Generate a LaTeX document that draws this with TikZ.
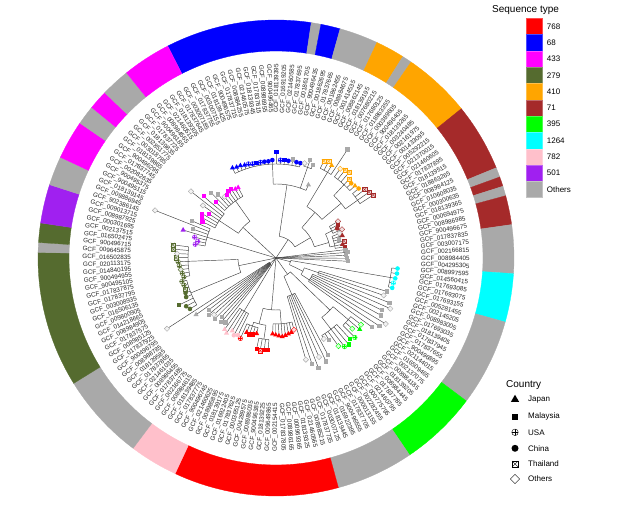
\documentclass[tikz,border=0pt]{standalone}
\usepackage{fontspec}
\setmainfont{Liberation Sans}
\usetikzlibrary{shapes.geometric}
\usetikzlibrary{positioning}
\definecolor{cR}{HTML}{FF0000}
\definecolor{cB}{HTML}{0000FF}
\definecolor{cM}{HTML}{FF00FF}
\definecolor{cO}{HTML}{556B2F}
\definecolor{cOr}{HTML}{FFA500}
\definecolor{cBr}{HTML}{A52A2A}
\definecolor{cG}{HTML}{00FF00}
\definecolor{cC}{HTML}{00FFFF}
\definecolor{cP}{HTML}{FFC0CB}
\definecolor{cV}{HTML}{A020F0}
\definecolor{cX}{HTML}{A9A9A9}
\tikzset{
  branch/.style={draw=black!75, line width=0.45pt},
  lbl/.style={inner sep=0pt, font=\fontsize{6.3}{7}\selectfont, text=black!85},
  jp/.style={regular polygon, regular polygon sides=3, fill=#1, inner sep=0pt, minimum size=6pt},
  my/.style={rectangle, fill=#1, inner sep=0pt, minimum size=4.2pt},
  cn/.style={circle, fill=#1, inner sep=0pt, minimum size=4.6pt},
  us/.style={circle, draw=#1, fill=#1!20, line width=0.4pt, inner sep=0pt, minimum size=4.6pt,
    path picture={\draw[draw=#1, line width=0.35pt] (path picture bounding box.north) -- (path picture bounding box.south)
      (path picture bounding box.west) -- (path picture bounding box.east);}},
  th/.style={rectangle, draw=#1, fill=#1!20, line width=0.4pt, inner sep=0pt, minimum size=4.2pt,
    path picture={\draw[draw=#1, line width=0.35pt] (path picture bounding box.south west) -- (path picture bounding box.north east)
      (path picture bounding box.north west) -- (path picture bounding box.south east);}},
  ot/.style={diamond, draw=#1, fill=#1!15, line width=0.4pt, inner sep=0pt, minimum size=5.5pt},
  mk/.code 2 args={\edef\mkopts{#1=#2}\expandafter\pgfkeysalso\expandafter{\mkopts}},
  stbox/.style={rectangle, fill=#1, draw=#1!70, line width=0.3pt, minimum width=16pt, minimum height=16.3pt, inner sep=0pt},
  keytext/.style={inner sep=1pt, font=\fontsize{8}{9}\selectfont},
  keytitle/.style={inner sep=1pt, font=\fontsize{10}{12}\selectfont}
}
% angle of leaf (or of a fractional leaf position)
\newcommand{\ix}[1]{117-(#1+0.5)*2.368}
% internal node: position, parent radius, node radius, arc from, arc to
\newcommand{\inode}[5]{%
  \draw[branch] ({\ix{#1}}:#2) -- ({\ix{#1}}:#3);
  \draw[branch] ({\ix{#4}}:#3) arc[start angle={\ix{#4}}, end angle={\ix{#5}}, radius=#3];}

\begin{document}
\begin{tikzpicture}[x=1pt, y=1pt]

  \useasboundingbox (0, 0) rectangle (620, 505);

  \begin{scope}[shift={(276, 247)}]

    % sequence type ring
    \foreach \s/\e/\col in {0/15/cB, 15/16/cX, 16/18/cB, 18/22/cX, 22/25/cOr, 25/26/cX, 26/33/cOr,
        33/40/cBr, 40/41/cX, 41/42/cBr, 42/43/cX, 43/46/cBr, 46/51/cX, 51/56/cC, 56/65/cX,
        65/73/cG, 73/81/cX, 81/98/cR, 98/103/cP, 103/112/cX, 112/126/cO, 126/127/cX,
        127/129/cO, 129/133/cV, 133/136/cX, 136/140/cM, 140/142/cX, 142/144/cM,
        144/147/cX, 147/152/cM} {
      \pgfmathsetmacro\aa{117-\s*2.368}
      \pgfmathsetmacro\bb{117-\e*2.368}
      \fill[fill=\col, draw=\col, line width=0.3pt] (\aa:207) arc[start angle=\aa, end angle=\bb, radius=207]
        -- (\bb:238) arc[start angle=\bb, end angle=\aa, radius=238] -- cycle;
    }

    % tip labels
    \foreach \i/\lab in {0/017837755, 1/003007155, 2/018139425, 3/900496575, 4/017837715,
        5/008984255, 6/021460575, 7/018139345, 8/017837615, 9/008986955, 10/900496465,
        11/018139395, 12/016919205, 13/021460585, 14/017837695, 15/001861705, 16/900496435,
        17/001862695, 18/017837665, 19/001862455, 20/008984675, 21/001414535, 22/008862145,
        23/018139195, 24/007680215, 25/017680125, 26/018863355, 27/000389605, 28/900496405,
        29/018139265, 30/003240485, 31/002161975, 32/001433095, 33/005292215, 34/021370015,
        35/021460605, 36/017837895, 37/018139515, 38/018863265, 39/008984125, 40/010608035,
        41/000300635, 42/018139365, 43/000694975, 44/008986985, 45/900496675, 46/017837835,
        47/003007175, 48/002166815, 49/008984405, 50/004295305, 51/008997595, 52/014560415,
        53/017693085, 54/017693075, 55/017693155, 56/005281455, 57/002145205, 58/008983005,
        59/017693035, 60/018139405, 61/017837945, 62/017837655, 63/900496895, 64/021144015,
        65/016509465, 66/002137075, 67/008984185, 68/018139205, 69/008984445, 70/017837785,
        71/021460795, 72/000775795, 73/002282455, 74/000013155, 75/017837705, 76/900496555,
        77/016922395, 78/018139445, 79/003007125, 80/017837735, 81/008985215, 82/021460565,
        83/018139325, 84/000969365, 85/008986165, 86/017837805, 87/002154415, 88/009649865,
        89/018139225, 90/900496385, 91/008986035, 92/004289575, 93/000365125, 94/017837625,
        95/016922405, 96/018139175, 97/008985895, 98/021460625, 99/900496745, 100/017837775,
        101/018139485, 102/008984615, 103/002166775, 104/017837485, 105/008986455,
        106/021461035, 107/017837865, 108/018139585, 109/008988785, 110/900496795,
        111/017837925, 112/008985125, 113/017837575, 114/008984905, 115/014218665,
        116/009800905, 117/016506135, 118/003008935, 119/017837795, 120/017837875,
        121/900495105, 122/900494955, 123/014840195, 124/020113175, 125/016502835,
        126/009645875, 127/900496715, 128/016502475, 129/002137515, 130/000301695,
        131/008987925, 132/009013715, 133/902386145, 134/009886945, 135/018139145,
        136/900495115, 137/900495375, 138/002082635, 139/017837745, 140/900496295,
        141/018139865, 142/003018785, 143/002851775, 144/018139835, 145/017837725,
        146/900496185, 147/008984565, 148/021460515, 149/018139305, 150/017837645,
        151/003007185} {
      \pgfmathsetmacro\a{\ix{\i}}
      \ifdim\a pt>90pt \def\anc{east}\pgfmathsetmacro\rot{\a+180}\else
        \ifdim\a pt<-90pt \def\anc{east}\pgfmathsetmacro\rot{\a+180}\else
          \def\anc{west}\let\rot\a\fi\fi
      \node[lbl, anchor=\anc, rotate=\rot] (l\i) at (\a:145) {GCF\_\lab};
    }

    % tree: inner nodes
    \inode{25}{0}{22}{14.5}{36}
    \inode{14.5}{22}{74}{10}{21}
    \inode{10}{74}{94}{0}{17}
    \inode{19}{74}{96}{18}{20}
    \inode{36}{22}{40}{28}{42}
    \inode{28}{40}{60}{24}{32}
    \inode{24}{60}{100}{22}{25}
    \inode{32}{60}{85}{29}{34}
    \inode{29}{85}{100}{26}{31}
    \inode{34}{85}{100}{32}{35}
    \inode{42}{40}{55}{38}{44}
    \inode{38}{55}{62}{36}{39}
    \inode{44}{55}{60}{40}{45}
    \inode{55}{0}{15}{53}{60}
    \inode{53}{15}{116}{51}{55}
    \inode{60}{15}{30}{57}{63}
    \inode{57}{30}{45}{56}{58}
    \inode{63}{30}{40}{59}{64}
    \inode{72}{0}{20}{67.5}{77}
    \inode{67.5}{20}{75}{66}{71}
    \inode{66}{75}{95}{65}{68}
    \inode{71}{75}{90}{69}{74}
    \inode{77}{20}{40}{75}{80}
    \inode{89}{0}{52}{85}{93}
    \inode{85}{52}{66}{81}{88}
    \inode{93}{52}{68}{90.5}{95}
    \inode{90.5}{68}{82}{89}{92}
    \inode{95}{68}{72}{93}{97}
    \inode{100}{0}{62}{98}{102}
    \inode{107}{0}{8}{103}{111}
    \inode{120}{0}{38}{115.5}{124}
    \inode{115.5}{38}{92}{112}{119}
    \inode{124}{38}{88}{120}{128}
    \inode{132}{0}{72}{129}{135}
    \inode{143}{0}{45}{139}{148}
    \inode{139}{45}{68}{136}{142}
    \inode{148}{45}{70}{143}{151}

    % tree: tips
    \foreach \i/\rp/\rt/\shp/\col in {0/94/100/jp/cB, 1/94/99/jp/cB, 2/94/99/jp/cB, 3/94/98/jp/cB,
        4/94/98/us/cB, 5/94/97/us/cB, 6/94/97/my/cB, 7/94/97/us/cB, 8/94/97/cn/cB, 9/94/97/cn/cB,
        10/94/98/cn/cB, 11/94/106/my/cB, 12/94/98/us/cB, 13/94/98/my/cB, 14/94/98/cn/cB,
        15/94/100/my/cX, 16/94/98/cn/cB, 17/94/98/cn/cB,
        18/96/99/ot/cX, 19/96/104/my/cX, 20/96/100/my/cX, 21/74/80/jp/cX,
        22/100/108/th/cOr, 23/100/110/th/cOr, 24/100/108/jp/cOr, 25/100/130/my/cX,
        26/100/110/ot/cOr, 27/100/112/th/cOr, 28/100/113/th/cOr, 29/100/108/th/cOr,
        30/100/106/cn/cOr, 31/100/107/jp/cOr, 32/100/108/cn/cOr, 33/100/112/th/cBr,
        34/100/114/th/cBr, 35/100/116/th/cBr,
        36/62/72/ot/cBr, 37/62/70/my/cBr, 38/62/68/cn/cBr, 39/62/72/ot/cBr,
        40/60/68/ot/cX, 41/60/70/jp/cBr, 42/60/66/my/cX, 43/60/70/th/cBr, 44/60/68/jp/cBr, 45/60/70/my/cBr,
        46/0/70/my/cX, 47/0/72/my/cX, 48/0/70/my/cX, 49/0/71/my/cX, 50/0/72/my/cX,
        51/116/122/cn/cC, 52/116/122/cn/cC, 53/116/121/cn/cC, 54/116/120/us/cC, 55/116/120/cn/cC,
        56/45/116/my/cX, 57/45/114/ot/cX, 58/45/122/my/cX,
        59/40/125/ot/cX, 60/40/118/my/cX, 61/40/120/my/cX, 62/40/128/ot/cX, 63/40/124/my/cX, 64/40/118/my/cX,
        65/95/108/ot/cG, 66/95/110/jp/cG, 67/95/104/ot/cG, 68/95/112/us/cG,
        69/90/110/my/cG, 70/90/113/my/cG, 71/90/112/us/cG, 72/90/108/ot/cG, 73/90/98/my/cX, 74/90/94/ot/cX,
        75/40/110/my/cX, 76/40/115/my/cX, 77/40/108/ot/cX, 78/40/118/my/cX, 79/40/112/my/cX, 80/40/106/ot/cX,
        81/66/74/ot/cR, 82/66/76/jp/cR, 83/66/77/jp/cR, 84/66/78/jp/cR, 85/66/79/jp/cR,
        86/66/78/jp/cR, 87/66/77/jp/cR, 88/66/76/jp/cR,
        89/82/92/my/cR, 90/82/93/my/cR, 91/82/94/th/cR, 92/82/93/my/cR,
        93/72/78/jp/cR, 94/72/80/my/cR, 95/72/81/my/cR, 96/72/80/jp/cR, 97/72/88/us/cR,
        98/62/86/cn/cP, 99/62/88/cn/cP, 100/62/85/jp/cP, 101/62/90/jp/cP, 102/62/88/jp/cP,
        103/8/82/my/cX, 104/8/84/my/cX, 105/8/80/my/cX, 106/8/86/my/cX, 107/8/84/ot/cX,
        108/8/88/my/cX, 109/8/85/my/cX, 110/8/98/jp/cX, 111/8/130/ot/cX,
        112/92/100/cn/cO, 113/92/102/cn/cO, 114/92/108/my/cO, 115/92/98/cn/cO, 116/92/97/cn/cO,
        117/92/96/th/cO, 118/92/96/us/cO, 119/92/97/us/cO,
        120/88/94/us/cO, 121/88/95/us/cO, 122/88/96/ot/cO, 123/88/97/us/cO, 124/88/98/us/cO,
        125/88/100/th/cO, 126/88/99/ot/cX, 127/88/103/th/cO, 128/88/104/th/cO,
        129/72/82/us/cV, 130/72/80/us/cV, 131/72/84/us/cV, 132/72/97/jp/cV,
        133/72/88/my/cX, 134/72/130/ot/cX, 135/72/92/my/cX,
        136/68/82/my/cM, 137/68/84/my/cM, 138/68/86/my/cM, 139/68/80/my/cM, 140/68/90/ot/cX,
        141/68/108/ot/cX, 142/68/95/my/cM,
        143/70/82/my/cM, 144/70/92/my/cX, 145/70/86/my/cX, 146/70/80/ot/cX, 147/70/80/my/cM,
        148/70/82/my/cM, 149/70/82/my/cM, 150/70/80/jp/cM, 151/70/80/jp/cM} {
      \draw[branch] ({\ix{\i}}:\rp) -- ({\ix{\i}}:\rt);
      \node[mk={\shp}{\col}] (t\i) at ({\ix{\i}}:\rt) {};
    }
  \end{scope}

  % legend: sequence type
  \node[keytitle, anchor=west] (sttitle) at (491, 495) {Sequence type};
  \foreach \col/\lab [count=\k from 0] in {cR/768, cB/68, cM/433, cO/279, cOr/410, cBr/71,
      cG/395, cC/1264, cP/782, cV/501, cX/Others} {
    \node[stbox=\col] (b\k) at (534, {478.55-16.3*\k}) {};
    \node[keytext, right=3.5pt of b\k] (bl\k) {\lab};
  }

  % legend: country
  \node[keytitle, anchor=west] (cotitle) at (505, 120) {Country};
  \node[jp=black, minimum size=9.5pt] (kjp) at (515, 105.5) {};
  \node[my=black, minimum size=6pt] (kmy) at (515, 88.3) {};
  \node[us=black, fill=white, minimum size=6.5pt] (kus) at (515, 72.7) {};
  \node[cn=black, minimum size=7pt] (kcn) at (515, 56.7) {};
  \node[th=black, fill=white, minimum size=6.2pt] (kth) at (515, 41) {};
  \node[ot=black, fill=white, minimum size=9.5pt] (kot) at (515, 26) {};
  \node[keytext, anchor=west] (ljp) at (527, 105) {Japan};
  \node[keytext, anchor=west] (lmy) at (527, 88.3) {Malaysia};
  \node[keytext, anchor=west] (lus) at (527, 72.7) {USA};
  \node[keytext, anchor=west] (lcn) at (527, 56.7) {China};
  \node[keytext, anchor=west] (lth) at (527, 41) {Thailand};
  \node[keytext, anchor=west] (lot) at (527, 26) {Others};

\end{tikzpicture}
\end{document}
